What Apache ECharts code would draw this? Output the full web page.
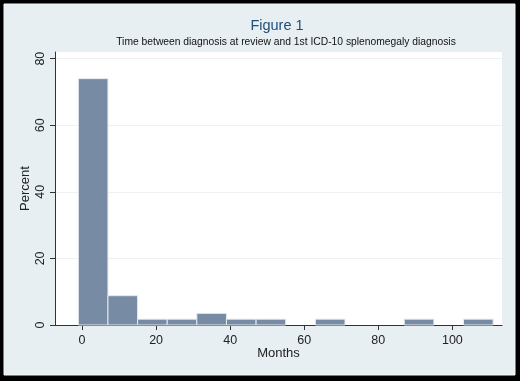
<!DOCTYPE html>
<html>
<head>
<meta charset="utf-8">
<script src="https://cdn.jsdelivr.net/npm/echarts@6/dist/echarts.min.js"></script>
<style>
  html, body { margin: 0; padding: 0; background: #000; }
  #main { width: 520px; height: 381px; }
</style>
</head>
<body>
<div id="main"></div>
<script>
// histogram bins (months), bin width 8
var binStart = [-1, 7, 15, 23, 31, 39, 47, 55, 63, 71, 79, 87, 95, 103];
var binEnd = [7, 15, 23, 31, 39, 47, 55, 63, 71, 79, 87, 95, 103, 111];
var percent = [74.0, 8.8, 1.75, 1.75, 3.5, 1.75, 1.75, 0, 1.75, 0, 0, 1.75, 0, 1.75];
var xTicks = [0, 20, 40, 60, 80, 100];
var yTicks = [0, 20, 40, 60, 80];

var font = 'Arial, "Liberation Sans", sans-serif';
var chart = echarts.init(document.getElementById('main'), null, { renderer: 'canvas' });

var binData = binStart.map(function (s, i) {
  return [s, binEnd[i], percent[i]];
});

var option = {
  backgroundColor: '#000',
  animation: false,
  graphic: [{
    type: 'rect',
    z: -10,
    shape: { x: 4, y: 4, width: 511, height: 371 },
    style: { fill: '#e8eff2', stroke: '#f4f8f9', lineWidth: 1 }
  }],
  title: [{
    text: 'Figure 1',
    left: 277,
    top: 18,
    textAlign: 'center',
    padding: 0,
    textStyle: { fontFamily: font, fontSize: 14.5, fontWeight: 'normal', color: '#1f4e79' }
  }, {
    text: 'Time between diagnosis at review and 1st ICD-10 splenomegaly diagnosis',
    left: 286,
    top: 37.5,
    textAlign: 'center',
    padding: 0,
    textStyle: { fontFamily: font, fontSize: 10.3, fontWeight: 'normal', color: '#111' }
  }],
  grid: {
    left: 55, top: 52, right: 18, bottom: 56,
    show: true,
    backgroundColor: '#fff',
    borderWidth: 0
  },
  xAxis: {
    type: 'value',
    min: -7.3,
    max: 113.4,
    name: 'Months',
    nameLocation: 'middle',
    nameGap: 22,
    nameMoveOverlap: false,
    nameTextStyle: { fontFamily: font, fontSize: 13, color: '#222' },
    axisLine: { show: true, onZero: false, lineStyle: { color: '#333', width: 1 } },
    axisTick: { show: true, length: 5, customValues: xTicks, lineStyle: { color: '#333' } },
    axisLabel: { customValues: xTicks, margin: 9, fontFamily: font, fontSize: 12.5, color: '#222' },
    splitLine: { show: false }
  },
  yAxis: {
    type: 'value',
    min: 0,
    max: 82,
    interval: 20,
    name: 'Percent',
    nameLocation: 'middle',
    nameRotate: 90,
    nameGap: 23,
    nameMoveOverlap: false,
    nameTextStyle: { fontFamily: font, fontSize: 13, color: '#222' },
    axisLine: { show: true, onZero: false, lineStyle: { color: '#333', width: 1 } },
    axisTick: { show: true, length: 5, customValues: yTicks, lineStyle: { color: '#333' } },
    axisLabel: { customValues: yTicks, rotate: 90, margin: 8, fontFamily: font, fontSize: 12.5, color: '#222' },
    splitLine: { show: true, lineStyle: { color: '#eef1f3', width: 1 } }
  },
  series: [{
    type: 'custom',
    data: binData,
    encode: { x: [0, 1], y: 2 },
    renderItem: function (params, api) {
      var h = api.value(2);
      if (!h) return null;
      var p0 = api.coord([api.value(0), h]);
      var p1 = api.coord([api.value(1), 0]);
      return {
        type: 'rect',
        shape: { x: p0[0], y: p0[1], width: p1[0] - p0[0], height: p1[1] - p0[1] },
        style: { fill: '#778ba5', stroke: '#e4eaef', lineWidth: 1 }
      };
    }
  }]
};

chart.setOption(option);
</script>
</body>
</html>
